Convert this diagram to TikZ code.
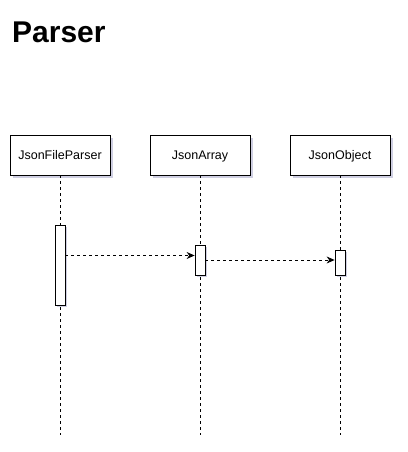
\documentclass[tikz,border=0pt]{standalone}
\usepackage{fontspec}
\setmainfont{Liberation Sans}
\usetikzlibrary{arrows.meta, positioning, shadows}

\tikzset{
  actor/.style={draw, fill=white, line width=0.8pt, minimum width=100pt, minimum height=40pt,
    inner sep=0pt, text depth=0pt, font=\fontsize{12.5}{14}\selectfont,
    drop shadow={shadow xshift=2.5pt, shadow yshift=-2.5pt, opacity=0.3, fill=blue!25!gray}},
  bar/.style={draw, fill=white, line width=0.8pt, minimum width=10pt, inner sep=0pt,
    drop shadow={shadow xshift=2pt, shadow yshift=-2pt, opacity=0.3, fill=blue!25!gray}},
  life/.style={line width=0.8pt, dash pattern=on 3pt off 3pt},
  msg/.style={line width=0.8pt, dash pattern=on 3pt off 3pt, -{Stealth[length=8pt,width=7pt]}}
}

\begin{document}
\begin{tikzpicture}[x=1pt,y=-1pt]
\useasboundingbox (0,0) rectangle (407,452);

% Title
\node[anchor=base west, inner sep=0pt, font=\bfseries\fontsize{30}{36}\selectfont] (title) at (12,43) {Parser};

% Participants and lifelines
\foreach \name/\x/\txt in {fp/60/JsonFileParser, arr/200/JsonArray, obj/340/JsonObject} {
    \node[actor] (\name) at (\x,155) {\txt};
    \coordinate (\name-end) at (\x,435);
    \draw[life] (\name) -- (\name-end);
}

% Activations
\node[bar, minimum height=80pt] (bar1) at (60,265) {};
\node[bar, minimum height=30pt] (bar2) at (200,260) {};
\node[bar, minimum height=25pt] (bar3) at (340,262.5) {};

% Messages
\coordinate (m1) at (0,255.5);
\draw[msg] (bar1.east |- m1) -- (bar2.west |- m1);
\draw[msg] (bar2.east) -- (bar3.west |- bar2.east);
\end{tikzpicture}
\end{document}
